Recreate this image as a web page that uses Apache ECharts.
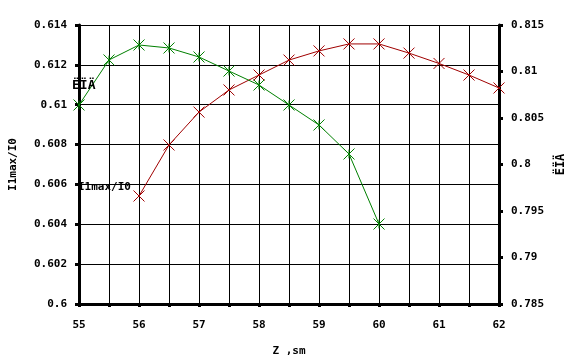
<!DOCTYPE html>
<html>
<head>
<meta charset="utf-8">
<script src="https://cdn.jsdelivr.net/npm/echarts@6/dist/echarts.min.js"></script>
<style>html,body{margin:0;padding:0;background:#fff}#c{width:576px;height:363px}</style>
</head>
<body>
<div id="c"></div>
<script>
// Data
var zValues = [55, 55.5, 56, 56.5, 57, 57.5, 58, 58.5, 59, 59.5, 60, 60.5, 61, 61.5, 62];
var redX = [56, 56.5, 57, 57.5, 58, 58.5, 59, 59.5, 60, 60.5, 61, 61.5, 62];
var redY = [0.60542, 0.60798, 0.60963, 0.61074, 0.61149, 0.61224, 0.61270, 0.61305, 0.61305, 0.61259, 0.61207, 0.61149, 0.61084];
var greenX = [55, 55.5, 56, 56.5, 57, 57.5, 58, 58.5, 59, 59.5, 60];
var greenY = [0.8064, 0.81124, 0.81285, 0.81253, 0.81156, 0.81005, 0.80855, 0.8064, 0.80425, 0.80113, 0.79360];
var xTickLabels = ['55', '56', '57', '58', '59', '60', '61', '62'];
var leftTickLabels = ['0.6', '0.602', '0.604', '0.606', '0.608', '0.61', '0.612', '0.614'];
var rightTickLabels = ['0.785', '0.79', '0.795', '0.8', '0.805', '0.81', '0.815'];
var redName = 'I1max/I0';
var greenName = 'ËÏÄ';
var xName = 'Z ,sm';

function pairs(xs, ys) { return xs.map(function (x, i) { return [x, ys[i]]; }); }

var FONT = 'DejaVu Sans Mono';
var txt = { color: '#000', fontFamily: FONT, fontWeight: 'bold', fontSize: 11 };

var chart = echarts.init(document.getElementById('c'), null, { renderer: 'canvas' });
chart.setOption({
  animation: false,
  backgroundColor: '#fff',
  grid: { left: 77, right: 77, top: 25, bottom: 59 },
  xAxis: {
    type: 'value', min: 55, max: 62, interval: 0.5,
    name: xName, nameLocation: 'middle', nameGap: 42,
    nameTextStyle: txt,
    axisLine: { show: true, onZero: false, lineStyle: { color: '#000', width: 3 } },
    axisTick: { show: true, length: 3, lineStyle: { color: '#000', width: 3 } },
    axisLabel: Object.assign({ margin: 16, formatter: function (v) {
      var s = String(v); return xTickLabels.indexOf(s) >= 0 ? s : '';
    } }, txt),
    splitLine: { show: true, lineStyle: { color: '#000', width: 1 } }
  },
  yAxis: [{
    type: 'value', min: 0.6, max: 0.614, interval: 0.002, position: 'left',
    name: redName, nameLocation: 'middle', nameGap: 60, nameRotate: 90,
    nameTextStyle: txt,
    axisLine: { show: true, onZero: false, lineStyle: { color: '#000', width: 3 } },
    axisTick: { show: true, length: 4, lineStyle: { color: '#000', width: 3 } },
    axisLabel: Object.assign({ margin: 12, formatter: function (v) {
      return leftTickLabels[Math.round((v - 0.6) / 0.002)];
    } }, txt),
    splitLine: { show: true, lineStyle: { color: '#000', width: 1 } }
  }, {
    type: 'value', min: 0.785, max: 0.815, interval: 0.005, position: 'right',
    name: greenName, nameLocation: 'middle', nameGap: 52, nameRotate: 90,
    nameTextStyle: Object.assign({}, txt, { fontSize: 12 }),
    axisLine: { show: true, onZero: false, lineStyle: { color: '#000', width: 3 } },
    axisTick: { show: true, length: 4, lineStyle: { color: '#000', width: 3 } },
    axisLabel: Object.assign({ margin: 12, formatter: function (v) {
      return rightTickLabels[Math.round((v - 0.785) / 0.005)];
    } }, txt),
    splitLine: { show: false }
  }],
  series: [{
    name: redName, type: 'line', yAxisIndex: 0,
    data: pairs(redX, redY),
    symbol: 'path://M0,0L10,10M10,0L0,10', symbolSize: 11,
    lineStyle: { color: '#a00000', width: 1 },
    itemStyle: { color: 'rgba(0,0,0,0)', borderColor: '#a00000', borderWidth: 1 },
    z: 5
  }, {
    name: greenName, type: 'line', yAxisIndex: 1,
    data: pairs(greenX, greenY),
    symbol: 'path://M0,0L10,10M10,0L0,10M5,1L5,9', symbolSize: 11,
    lineStyle: { color: '#008000', width: 1 },
    itemStyle: { color: 'rgba(0,0,0,0)', borderColor: '#008000', borderWidth: 1 },
    z: 5
  }],
  graphic: [
    { type: 'text', left: 72, top: 79, z: 10,
      style: { text: greenName, fill: '#000', font: 'bold 13px "DejaVu Sans Mono"' } },
    { type: 'text', left: 78, top: 182, z: 10,
      style: { text: redName, fill: '#000', font: 'bold 11px "DejaVu Sans Mono"' } }
  ]
});
</script>
</body>
</html>
